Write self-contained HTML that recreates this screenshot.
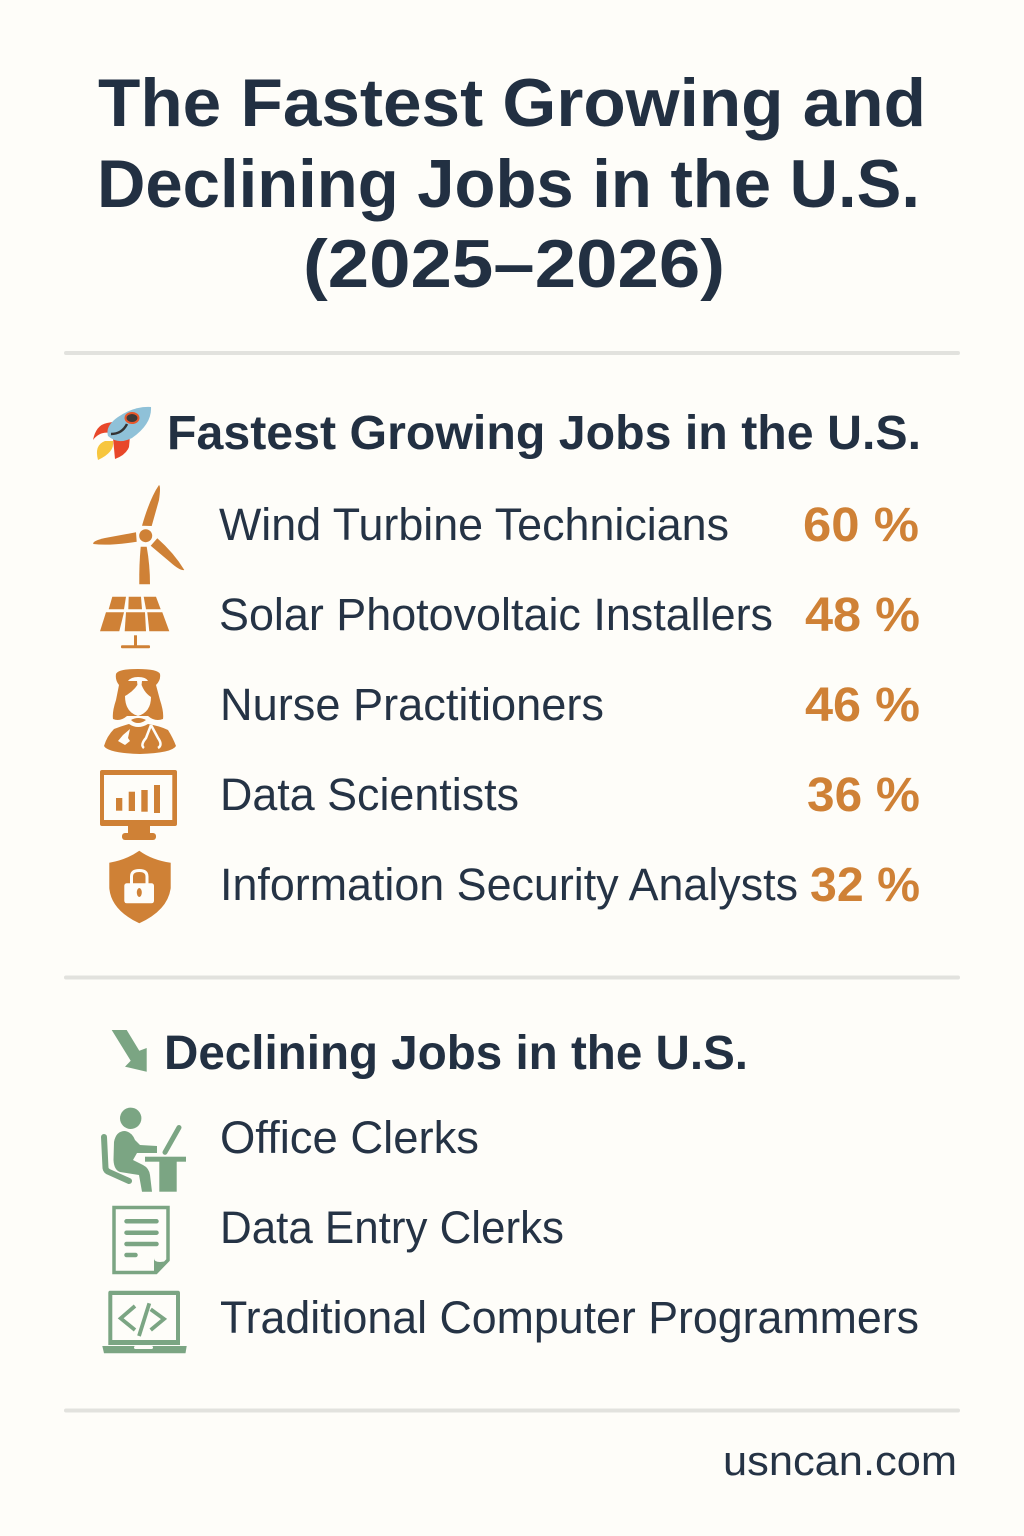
<!DOCTYPE html>
<html lang="en">
<head>
<meta charset="utf-8">
<title>The Fastest Growing and Declining Jobs in the U.S. (2025–2026)</title>
<style>
html,body{margin:0;padding:0;background:#fefdf9;}
svg{display:block;}
text{font-family:"Liberation Sans",Arial,sans-serif;}
.title{font-size:68px;font-weight:700;fill:#223042;}
.head{font-size:48px;font-weight:700;fill:#223042;}
.row{font-size:45px;fill:#253345;}
.pct{font-size:48px;font-weight:700;fill:#cf8136;}
.o{fill:#cf8136;}
.g{fill:#7ba583;}
</style>
</head>
<body>
<svg width="1024" height="1536" viewBox="0 0 1024 1536" xmlns="http://www.w3.org/2000/svg">
<rect width="1024" height="1536" fill="#fefdf9"/>

<g>
<text class="title" x="98" y="126" textLength="828" lengthAdjust="spacingAndGlyphs">The Fastest Growing and</text>
<text class="title" x="97" y="207" textLength="823" lengthAdjust="spacingAndGlyphs">Declining Jobs in the U.S.</text>
<text class="title" x="303" y="287" textLength="422" lengthAdjust="spacingAndGlyphs">(2025–2026)</text>
</g>

<rect x="64" y="351" width="896" height="4" rx="2" fill="#e2e2de"/>
<rect x="64" y="975.500" width="896" height="4" rx="2" fill="#e2e2de"/>
<rect x="64" y="1408.500" width="896" height="4" rx="2" fill="#e2e2de"/>

<g>
<path d="M110 433 Q100 431 93 440 Q96 425 107 423 L118 421 Z" fill="#e8472a"/>
<path d="M113 438 L115 459 Q126 455 129 447 L130 436 Z" fill="#e8472a"/>
<path d="M98 460 Q94 445 105 441 L113 441 Q115 452 98 460 Z" fill="#f7c63e"/>
<path d="M151 407 Q152 424 132 438 Q118 445 108 436 Q105 426 118 417 Q134 406 151 407 Z" fill="#8fc1d8"/>
<ellipse cx="132" cy="418" rx="6.500" ry="5" fill="#3d3a3a" stroke="#e8572a" stroke-width="2"/>
<path d="M111 434 Q122 434 127 424" fill="none" stroke="#333" stroke-width="2.500"/>
</g>
<text class="head" x="167" y="449" textLength="754" lengthAdjust="spacingAndGlyphs">Fastest Growing Jobs in the U.S.</text>

<g class="o">
<circle cx="145.700" cy="535.700" r="6.500"/>
<path d="M159 485 Q161 486 159 500 L151.700 526 L142 525.700 Q150 498 159 485 Z"/>
<path d="M93.300 544 Q92 541 105 538 L136 532.300 L136.700 541.700 Q110 546 93.300 544 Z"/>
<path d="M184.300 570 Q180 571 170 562 L150.700 545.700 L157.300 538.300 Q174 553 184.300 570 Z"/>
<path d="M140.700 546.700 L146.700 546.700 Q150 565 150 584.300 L139.300 584.300 Q139 565 140.700 546.700 Z"/>
</g>
<text class="row" x="219" y="540" textLength="510" lengthAdjust="spacingAndGlyphs">Wind Turbine Technicians</text>
<text class="pct" x="803" y="541" textLength="116" lengthAdjust="spacingAndGlyphs">60 %</text>

<g class="o">
<polygon points="112.300,596.700 126,596.700 124,609.300 108.700,609.300"/>
<polygon points="128.700,596.700 141,596.700 142,609.300 128.300,609.300"/>
<polygon points="143.700,596.700 156,596.700 160.700,609.300 146,609.300"/>
<polygon points="106,612.300 124,612.300 119.300,631.300 100,631.300"/>
<polygon points="126,612.300 145,612.300 146,631.300 124.700,631.300"/>
<polygon points="147.300,612.300 162.300,612.300 169.300,631.300 149.300,631.300"/>
<rect x="134" y="635.300" width="3" height="11"/>
<rect x="121" y="645.300" width="29" height="3" rx="1"/>
</g>
<text class="row" x="219" y="630" textLength="554" lengthAdjust="spacingAndGlyphs">Solar Photovoltaic Installers</text>
<text class="pct" x="805" y="631" textLength="115" lengthAdjust="spacingAndGlyphs">48 %</text>

<g>
<path class="o" d="M116 674 Q118 669 138 669 Q158 669 160 674 Q161 680 156 685 L160 700 Q164 712 163 719 Q155 722 148 716 L127 716 Q120 722 113 719 Q112 712 116 700 L119 685 Q115 680 116 674 Z"/>
<path d="M125 696 Q136 690 140 680 Q143 692 151 697 Q151 712 138 716 Q125 712 125 696 Z" fill="#fefdf9"/>
<path d="M128 681 Q131 677 138 677 Q146 677 148 681 L142 681 L141 690 L138 690 L137 681 Z" fill="#fefdf9"/>
<path class="o" d="M131 720 Q138 716 146 720 Q142 723 138 723 Q134 723 131 720 Z"/>
<path class="o" d="M104 746 Q107 736 114 729 Q122 726 129 724 Q138 730 148 724 Q160 726 168 730 Q173 738 176 746 Q172 753 140 754 Q108 753 104 746 Z"/>
<path d="M123 735 L130 729 L128 738 L130 741 L125 745 L118 741 Z" fill="#fefdf9"/>
<path d="M151 725 L146 738 Q140 745 144 748 M151 725 L158 738 Q163 745 158 748" fill="none" stroke="#fefdf9" stroke-width="2.500"/>
</g>
<text class="row" x="220" y="720" textLength="384" lengthAdjust="spacingAndGlyphs">Nurse Practitioners</text>
<text class="pct" x="805" y="721" textLength="115" lengthAdjust="spacingAndGlyphs">46 %</text>

<g class="o">
<path fill-rule="evenodd" d="M102 770 H175 Q177 770 177 772 V824 Q177 826 175 826 H102 Q100 826 100 824 V772 Q100 770 102 770 Z M104 775 V820 H172.300 V775 Z"/>
<rect x="116" y="798" width="6.300" height="12.700"/>
<rect x="128.700" y="791.700" width="6.300" height="19.300"/>
<rect x="141.300" y="790" width="6.400" height="21.700"/>
<rect x="154" y="785" width="6" height="28"/>
<rect x="128" y="825" width="22" height="9"/>
<rect x="122" y="833" width="34" height="7" rx="3"/>
</g>
<text class="row" x="220" y="810" textLength="299" lengthAdjust="spacingAndGlyphs">Data Scientists</text>
<text class="pct" x="807" y="811" textLength="113" lengthAdjust="spacingAndGlyphs">36 %</text>

<g>
<path class="o" d="M139.300 850.700 Q126 860 109.300 862.700 L109.300 888 Q111 910 139.300 923.300 Q168 910 170.700 888 L170.700 862.700 Q152 860 139.300 850.700 Z"/>
<rect x="124.300" y="883.300" width="29.700" height="20" rx="2.500" fill="#fefdf9"/>
<path d="M131.500 884 V876.500 Q131.500 870.500 139.300 870.500 Q147 870.500 147 876.500 V884" fill="none" stroke="#fefdf9" stroke-width="3"/>
<ellipse class="o" cx="139.300" cy="892.500" rx="2.500" ry="4.500"/>
</g>
<text class="row" x="220" y="900" textLength="578" lengthAdjust="spacingAndGlyphs">Information Security Analysts</text>
<text class="pct" x="810" y="901" textLength="110" lengthAdjust="spacingAndGlyphs">32 %</text>

<polygon class="g" points="111.700,1030 126.700,1030 139.300,1050.700 146.700,1048 146.700,1071.700 125,1066.700 130.700,1060.700"/>
<text class="head" x="164" y="1069" textLength="584" lengthAdjust="spacingAndGlyphs">Declining Jobs in the U.S.</text>

<g>
<circle class="g" cx="130.700" cy="1118.300" r="10.700"/>
<path class="g" d="M114 1142 Q116 1131 125 1131 Q132 1132 135 1140 L140 1145 L157 1146 L157 1153 L137 1153 L133 1160 L143 1165 Q149 1168 150 1175 L152 1191.700 L142 1191.700 L139 1175 L120 1172 Q114 1170 113.500 1160 Z"/>
<path d="M104 1137 L105.500 1168 Q106 1171 109 1172 L129 1181" fill="none" stroke="#7ba583" stroke-width="6" stroke-linecap="round"/>
<rect class="g" x="145" y="1156.700" width="41" height="5"/>
<rect class="g" x="159.300" y="1161" width="17.400" height="30.700"/>
<path d="M165 1152.300 L179 1127.500" fill="none" stroke="#7ba583" stroke-width="5" stroke-linecap="round"/>
</g>
<text class="row" x="220" y="1153" textLength="259" lengthAdjust="spacingAndGlyphs">Office Clerks</text>

<g>
<path d="M114 1207.500 H168 V1260 L156 1272.500 H114 Z" fill="none" stroke="#7ba583" stroke-width="3.500"/>
<path class="g" d="M154 1258.300 Q154 1262 160 1262 L169.300 1261 L156.700 1274 L154 1274 Z"/>
<path d="M126.500 1221.300 H156.500 M126.500 1232.700 H156.500 M126.500 1244 H156.500 M126.500 1255 H135.500" fill="none" stroke="#7ba583" stroke-width="4.500" stroke-linecap="round"/>
</g>
<text class="row" x="220" y="1243" textLength="344" lengthAdjust="spacingAndGlyphs">Data Entry Clerks</text>

<g>
<path class="g" fill-rule="evenodd" d="M110 1290.700 H178 Q180 1290.700 180 1293 V1345 H108.300 V1293 Q108.300 1290.700 110 1290.700 Z M112.300 1295 V1340 H176 V1295 Z"/>
<path class="g" d="M102.300 1346 H186.700 L185.500 1353.300 H104 Z"/>
<rect x="134" y="1346" width="19" height="3" rx="1.500" fill="#fefdf9"/>
<path d="M135 1306 L120.700 1318.300 L135 1330 M149.300 1303.300 L139 1336 M150.700 1309.300 L164 1319 L150.700 1330" fill="none" stroke="#7ba583" stroke-width="3.800"/>
</g>
<text class="row" x="220" y="1333" textLength="699" lengthAdjust="spacingAndGlyphs">Traditional Computer Programmers</text>

<text x="723" y="1475" font-size="42" fill="#253345" textLength="234" lengthAdjust="spacingAndGlyphs">usncan.com</text>
</svg>
</body>
</html>
